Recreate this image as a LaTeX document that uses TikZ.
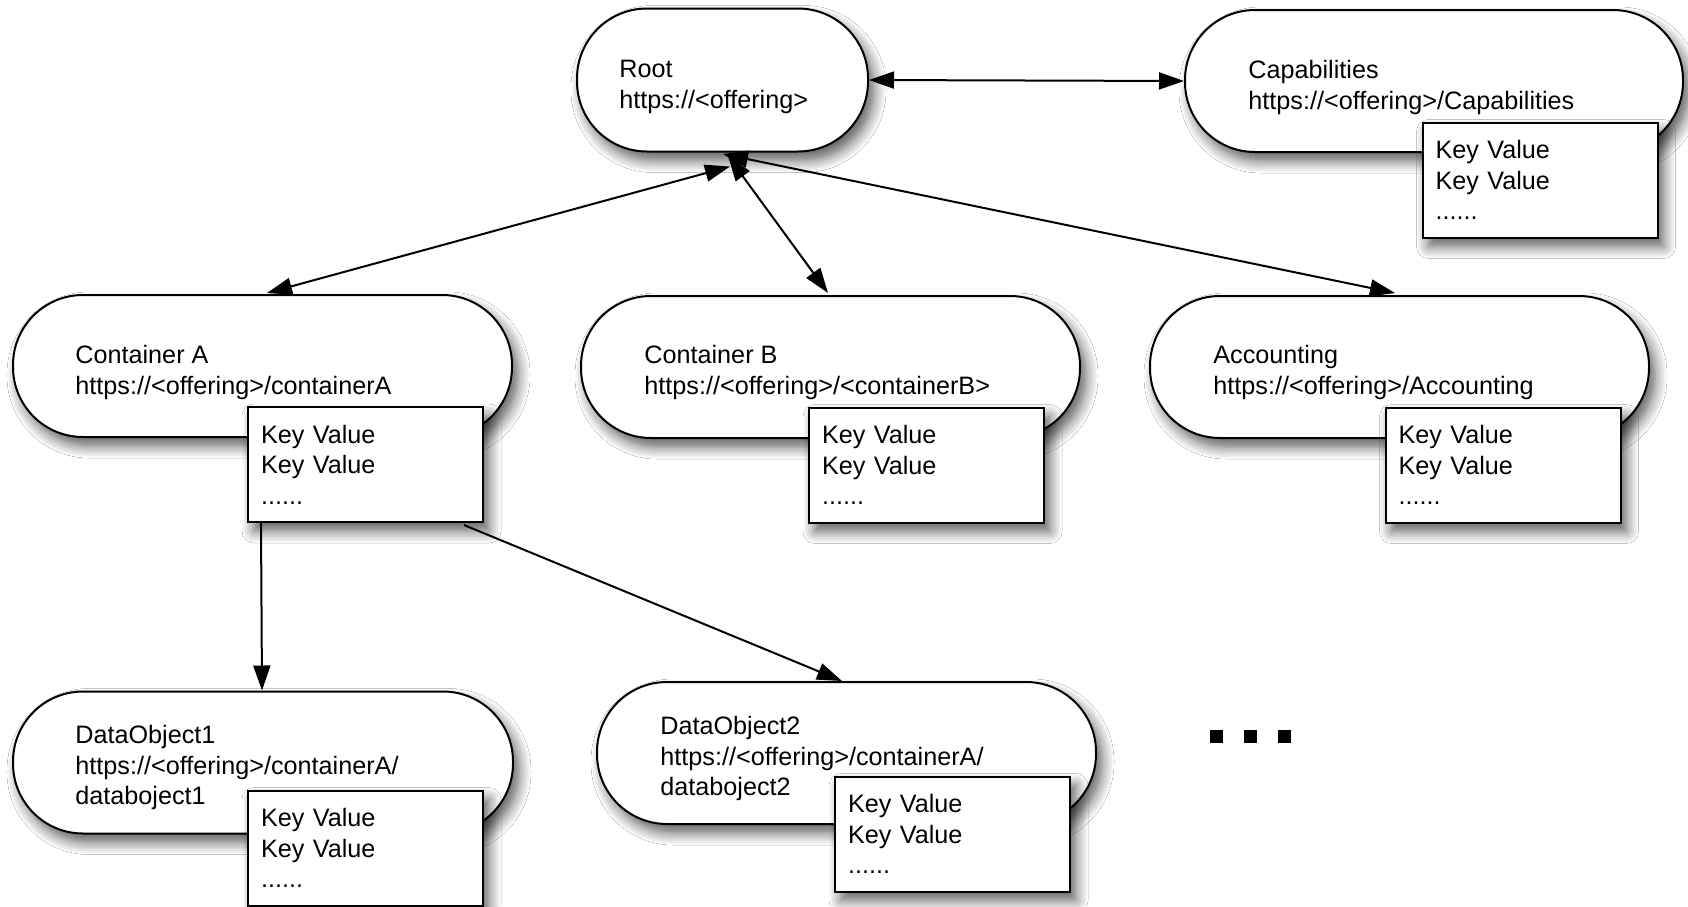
\documentclass[tikz,border=0pt]{standalone}
\usepackage{fontspec}
\setmainfont{Liberation Sans}
\usetikzlibrary{shadows.blur,arrows.meta,calc}

\tikzset{
  soft shadow/.style={blur shadow={shadow xshift=3pt, shadow yshift=-4.5pt,
      shadow blur radius=6pt, shadow blur steps=8, shadow opacity=65}},
  pill/.style={draw=black, line width=1pt, fill=white, rounded corners=35pt,
      minimum width=#1, minimum height=71pt, inner sep=0pt, soft shadow},
  kvbox/.style={draw=black, line width=1pt, fill=white, text width=104.5pt,
      inner xsep=6.5pt, minimum height=57.5pt, align=left,
      font=\fontsize{12.6}{15.3}\selectfont, soft shadow},
  caption/.style={anchor=north west, inner sep=0pt, align=left,
      font=\fontsize{12.6}{15.3}\selectfont},
  tip/.tip={Triangle[length=12.5pt,width=8.5pt]},
  link/.style={line width=1pt, draw=black, -tip},
  duplex/.style={line width=1pt, draw=black, tip-tip},
  dotsq/.style={fill=black, minimum size=6.5pt, inner sep=0pt},
}

\begin{document}
\begin{tikzpicture}[x=0.5pt, y=-0.5pt]
  \useasboundingbox (0,0) rectangle (1688,906);
  \fill[white] (0,0) rectangle (1688,906);

  % resource nodes
  \node[pill=145.5pt, minimum height=71.5pt] (root) at (722.5,80) {};
  \node[pill=249pt] (cap)  at (1434,81)   {};
  \node[pill=249.5pt] (conta) at (262.5,366) {};
  \node[pill=249.5pt] (contb) at (830.5,367) {};
  \node[pill=249.5pt] (acc)   at (1399.5,367) {};
  \node[pill=250pt] (do1) at (263,762.5) {};
  \node[pill=249.5pt] (do2) at (846.5,753) {};

  % titles and URIs
  \node[caption] (roottext)  at (619,60)   {Root\\https://<offering>};
  \node[caption] (captext)   at (1248,60)  {Capabilities\\https://<offering>/Capabilities};
  \node[caption] (contatext) at (75,345)   {Container A\\https://<offering>/containerA};
  \node[caption] (contbtext) at (644,345)  {Container B\\https://<offering>/<containerB>};
  \node[caption] (acctext)   at (1213,345) {Accounting\\https://<offering>/Accounting};
  \node[caption] (do1text)   at (75,725)   {DataObject1\\https://<offering>/containerA/\\databoject1};
  \node[caption] (do2text)   at (660,716)  {DataObject2\\https://<offering>/containerA/\\databoject2};

  % key/value metadata boxes
  \node[kvbox] (keycap)  at (1540,180)    {Key Value\\Key Value\\......};
  \node[kvbox] (keya)    at (365.5,464.5) {Key Value\\Key Value\\......};
  \node[kvbox] (keyb)    at (926.5,465)   {Key Value\\Key Value\\......};
  \node[kvbox] (keyacc)  at (1503,465)    {Key Value\\Key Value\\......};
  \node[kvbox] (keydo1)  at (365.5,848)   {Key Value\\Key Value\\......};
  \node[kvbox] (keydo2)  at (952.5,834)   {Key Value\\Key Value\\......};

  % continuation marks
  \node[dotsq] (more1) at (1216.5,736) {};
  \node[dotsq] (more2) at (1250.5,736) {};
  \node[dotsq] (more3) at (1284.5,736) {};

  % connectors
  \draw[duplex] (root.east) -- (cap.west);
  \draw[duplex] ($(root.south)+(7.5,14)$) -- ($(conta.north)+(4.5,-1)$);
  \draw[duplex] ($(root.south)+(5.5,3.5)$) -- ($(contb.north)+(-2.5,-2)$);
  \draw[duplex] ($(root.south)+(0.5,1.5)$) -- ($(acc.north)+(-4.5,-2)$);
  \draw[link] ($(keya.south west)+(14,0)$) -- ($(do1.north)+(-1,0)$);
  \draw[link] ($(keya.south east)+(-20,2)$) -- ($(do2.north)+(-4.5,0)$);
\end{tikzpicture}
\end{document}
